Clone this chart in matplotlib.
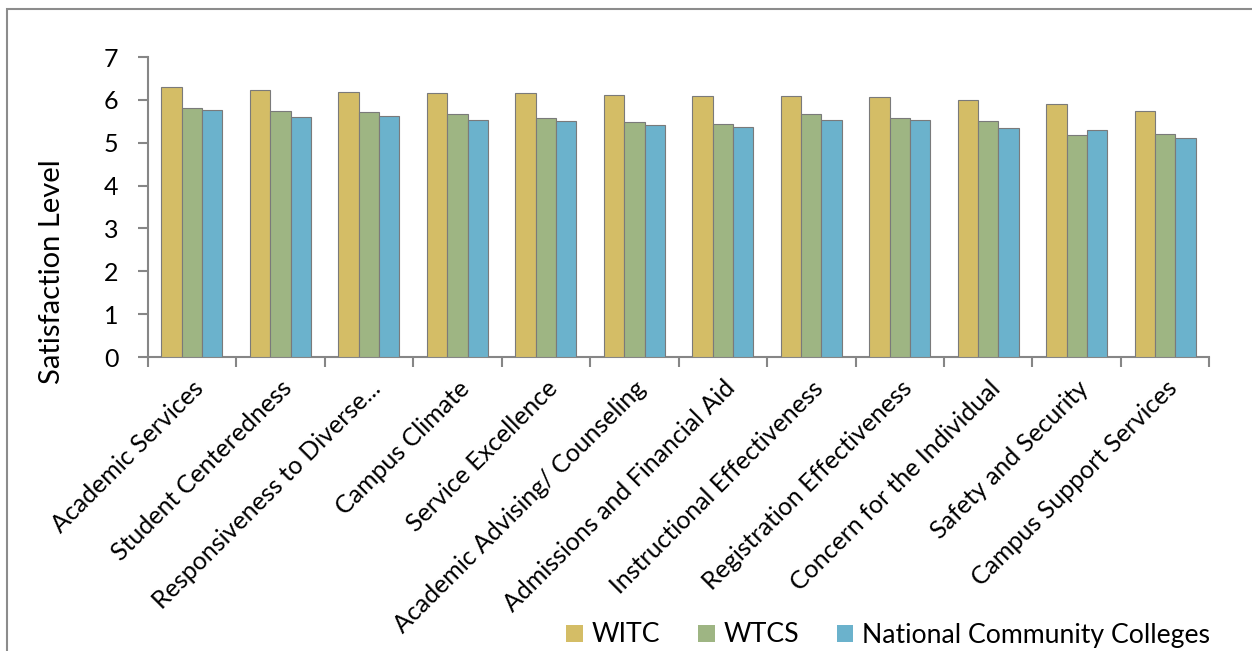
import numpy as np
import matplotlib
matplotlib.use("Agg")
import matplotlib.pyplot as plt
from matplotlib.patches import Rectangle

plt.rcParams['font.family'] = ['Lato', 'DejaVu Sans']

# survey scales
categories = ['Academic Services', 'Student Centeredness', 'Responsiveness to Diverse...',
              'Campus Climate', 'Service Excellence', 'Academic Advising/ Counseling',
              'Admissions and Financial Aid', 'Instructional Effectiveness',
              'Registration Effectiveness', 'Concern for the Individual',
              'Safety and Security', 'Campus Support Services']
witc = [6.30, 6.22, 6.19, 6.17, 6.16, 6.12, 6.10, 6.08, 6.07, 6.00, 5.91, 5.74]
wtcs = [5.81, 5.74, 5.72, 5.66, 5.58, 5.49, 5.43, 5.68, 5.58, 5.50, 5.18, 5.21]
ncc = [5.77, 5.59, 5.62, 5.52, 5.50, 5.42, 5.36, 5.53, 5.54, 5.35, 5.29, 5.12]
series = ['WITC', 'WTCS', 'National Community Colleges']
colors = ['#D4BD66', '#9EB583', '#6BB2CC']

fig = plt.figure(figsize=(12.52, 6.51), dpi=100)
ax = fig.add_axes([0.118, 0.4516, 0.848, 0.4608])

x = np.arange(len(categories))
w = 0.23
for i, (vals, c, lab) in enumerate(zip([witc, wtcs, ncc], colors, series)):
    ax.bar(x + (i - 1) * w, vals, w, color=c, edgecolor='#7a7a7a', linewidth=0.8,
           label=lab, zorder=3)

ax.set_xlim(-0.5, len(categories) - 0.5)
ax.set_ylim(0, 7)
ax.set_yticks(range(0, 8))

gray = '#868686'
for s in ['top', 'right']:
    ax.spines[s].set_visible(False)
for s in ['left', 'bottom']:
    ax.spines[s].set_color(gray)
    ax.spines[s].set_linewidth(1.5)

ax.tick_params(axis='y', length=7, width=1.5, color=gray, pad=14, labelsize=18)
ax.set_xticks(np.arange(len(categories) + 1) - 0.5, minor=True)
ax.set_xticks(x)
ax.tick_params(axis='x', which='major', length=0, pad=14)
ax.tick_params(axis='x', which='minor', length=7, width=1.5, color=gray)
ax.set_xticklabels(categories, rotation=45, ha='right', rotation_mode='anchor',
                   fontsize=18)

ax.set_ylabel('Satisfaction Level', fontsize=21)
ax.yaxis.set_label_coords(-0.078, 0.283)

leg = fig.legend(loc='center left', bbox_to_anchor=(566 / 1252, 1 - 635 / 651), ncol=3,
                 frameon=False, fontsize=19.2, handlelength=0.63, handleheight=0.6,
                 handletextpad=0.34, columnspacing=1.4, borderpad=0, borderaxespad=0)
for h in leg.legend_handles:
    h.set_edgecolor('none')

# outer chart border
fig.patches.append(Rectangle((7 / 1252, -0.1), 1.2, 1.1 - 9 / 651, fill=False,
                             edgecolor='#8c8c8c', linewidth=1.5,
                             transform=fig.transFigure, figure=fig))

fig.savefig('out.png', dpi=100)
